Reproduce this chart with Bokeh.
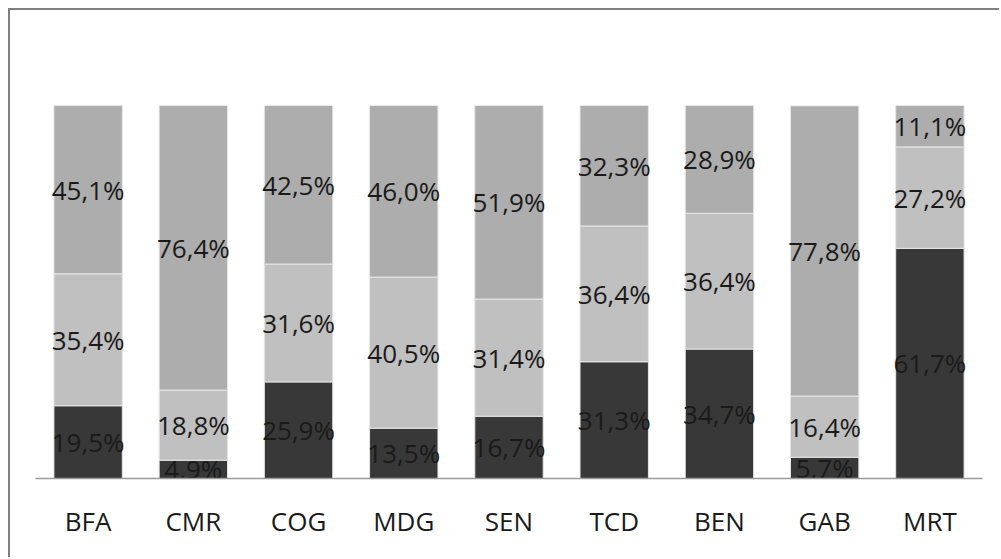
from bokeh.plotting import figure
from bokeh.models import ColumnDataSource, Range1d, FactorRange
from bokeh.core.properties import value
from bokeh.embed import file_html
from bokeh.resources import INLINE

categories = ["BFA", "CMR", "COG", "MDG", "SEN", "TCD", "BEN", "GAB", "MRT"]
dark = [19.5, 4.9, 25.9, 13.5, 16.7, 31.3, 34.7, 5.7, 61.7]
mid = [35.4, 18.8, 31.6, 40.5, 31.4, 36.4, 36.4, 16.4, 27.2]
top = [45.1, 76.4, 42.5, 46.0, 51.9, 32.3, 28.9, 77.8, 11.1]

series = ["dark", "mid", "top"]
colors = ["#383838", "#c0c0c0", "#adadad"]

data = {"cat": categories,
        "dark": [v / 100 for v in dark],
        "mid": [v / 100 for v in mid],
        "top": [v / 100 for v in top]}
src = ColumnDataSource(data)

p = figure(x_range=FactorRange(*categories, range_padding=0),
           y_range=Range1d(0, 1.0),
           width=991, height=549, output_backend="svg", toolbar_location=None,
           min_border_left=25, min_border_right=19, min_border_top=95, min_border_bottom=81)

p.vbar_stack(series, x="cat", width=0.65, source=src, color=colors,
             line_color="#e6e6e6", line_width=1)

# labels
lx, ly, lt = [], [], []
for i, c in enumerate(categories):
    base = 0.0
    for arr in (dark, mid, top):
        v = arr[i] / 100
        lx.append(c)
        ly.append(base + v / 2)
        lt.append(f"{arr[i]:.1f}%".replace(".", ","))
        base += v
p.text(x=lx, y=ly, text=lt, text_align="center", text_baseline="middle",
       text_font=value("Open Sans"), text_font_size="26px", text_color="#1a1a1a")

p.yaxis.visible = False
p.xgrid.visible = False
p.ygrid.visible = False
p.outline_line_color = None
p.xaxis.axis_line_color = "#9a9a9a"
p.xaxis.axis_line_width = 1.5
p.xaxis.major_tick_line_color = None
p.xaxis.minor_tick_line_color = None
p.xaxis.major_label_standoff = 18
p.xaxis.major_label_text_font = "Open Sans"
p.xaxis.major_label_text_font_size = "26px"
p.xaxis.major_label_text_color = "#1a1a1a"
p.xaxis.major_label_text_font_style = "normal"
p.styles = {"margin-left": "8px", "margin-top": "8px",
            "border-left": "2px solid #808080", "border-top": "2px solid #808080"}

open("out.html", "w").write(file_html(p, INLINE))
